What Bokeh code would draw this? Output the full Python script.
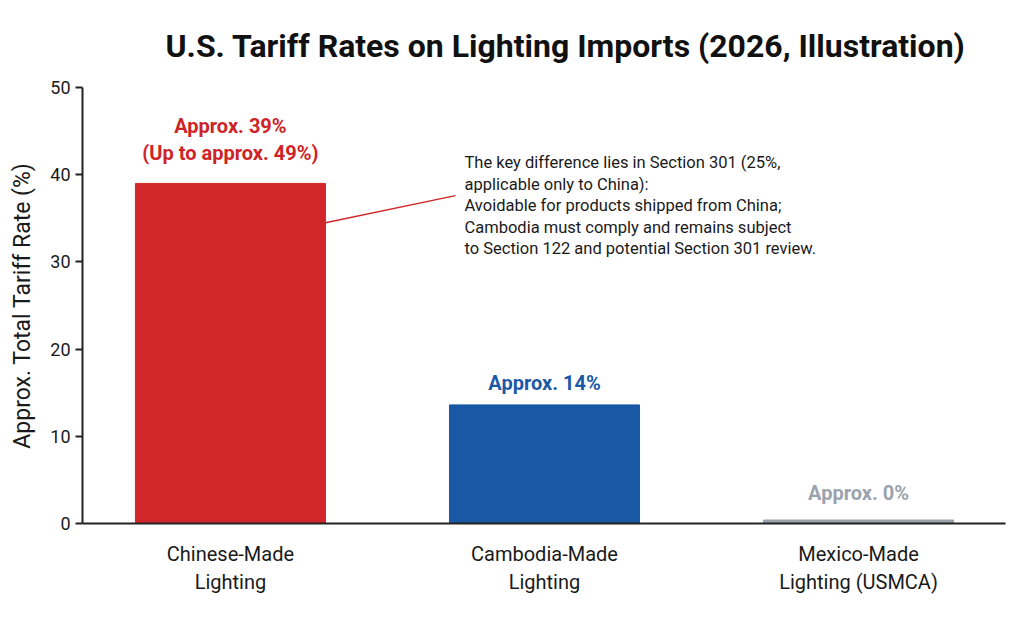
from bokeh.plotting import figure
from bokeh.models import FixedTicker, Range1d
from bokeh.core.properties import value
from bokeh.embed import file_html
from bokeh.resources import INLINE

categories = ["Chinese-Made\nLighting", "Cambodia-Made\nLighting", "Mexico-Made\nLighting (USMCA)"]
rates = [39, 13.6, 0.4]
bar_colors = ["#D1262A", "#1858A4", "#9BA4AE"]
label_colors = ["#CE2327", "#1C59A6", "#9AA3AD"]
bar_labels = [["Approx. 39%", "(Up to approx. 49%)"], ["Approx. 14%"], ["Approx. 0%"]]
note_lines = [
    "The key difference lies in Section 301 (25%,",
    "applicable only to China):",
    "Avoidable for products shipped from China;",
    "Cambodia must comply and remains subject",
    "to Section 122 and potential Section 301 review.",
]
y_ticks = [0, 10, 20, 30, 40, 50]

FONT = "Roboto"
W, H = 1024, 620
L, R, T, B = 82, 19, 87, 97
ymax = 50
px_per_unit = (H - T - B) / ymax
xs = [i + 0.5 for i in range(len(categories))]
x0, x1 = 0.029, 2.968
px_per_x = (W - L - R) / (x1 - x0)

p = figure(width=W, height=H, output_backend="svg", toolbar_location=None,
           x_range=Range1d(x0, x1), y_range=Range1d(0, ymax),
           min_border_left=L, min_border_right=R, min_border_top=T, min_border_bottom=B)
p.outline_line_color = None
p.grid.grid_line_color = None
p.background_fill_color = "white"

p.title.text = "U.S. Tariff Rates on Lighting Imports (2026, Illustration)"
p.title.text_font = FONT
p.title.text_font_size = "32px"
p.title.text_font_style = "bold"
p.title.text_color = "#111111"
p.title.align = "left"
p.title.offset = 83
p.title.standoff = 46

p.vbar(x=xs, top=rates, width=0.605, color=bar_colors)

# bar labels
for x, v, lines, c in zip(xs, rates, bar_labels, label_colors):
    n = len(lines)
    for k, t in enumerate(lines):
        if v > 1:
            off = 22 + (8 if n > 1 else 0) + 27 * (n - 1 - k)
        else:
            off = 27
        p.text(x=[x], y=[v + off / px_per_unit], text=[t], text_align="center",
               text_baseline="middle", text_font=value(FONT), text_font_style="bold",
               text_font_size="20px", text_color=c)

# annotation
note_x = x0 + (464 - L) / px_per_x
note_y0 = (H - B - 162) / px_per_unit
for k, t in enumerate(note_lines):
    p.text(x=[note_x], y=[note_y0 - k * 21.5 / px_per_unit], text=[t], text_align="left",
           text_baseline="middle", text_font=value(FONT), text_font_size="16.5px",
           text_color="#1a1a1a")
p.line(x=[xs[0] + 0.3025, x0 + (455 - L) / px_per_x], y=[rates[0] - 4.5, 37.6],
       line_color="#D1262A", line_width=1.5)

# axes
p.yaxis.ticker = FixedTicker(ticks=y_ticks)
p.yaxis.axis_label = "Approx. Total Tariff Rate (%)"
p.yaxis.axis_label_text_font = FONT
p.yaxis.axis_label_text_font_style = "normal"
p.yaxis.axis_label_text_font_size = "23px"
p.yaxis.axis_label_text_color = "#1a1a1a"
p.yaxis.axis_label_standoff = 11
p.yaxis.major_label_text_font = FONT
p.yaxis.major_label_text_font_size = "18px"
p.yaxis.major_label_text_color = "#1a1a1a"
p.yaxis.major_tick_out = 7
p.yaxis.major_tick_in = 0
p.yaxis.minor_tick_line_color = None
p.yaxis.axis_line_width = 2
p.yaxis.major_tick_line_width = 2
p.yaxis.axis_line_color = "#222222"
p.yaxis.major_tick_line_color = "#222222"

p.xaxis.ticker = FixedTicker(ticks=xs)
p.xaxis.major_label_overrides = {x: c for x, c in zip(xs, categories)}
p.xaxis.major_label_text_font = FONT
p.xaxis.major_label_text_font_size = "20px"
p.xaxis.major_label_text_color = "#1a1a1a"
p.xaxis.major_label_standoff = 12
p.xaxis.major_tick_line_color = None
p.xaxis.minor_tick_line_color = None
p.xaxis.axis_line_width = 2
p.xaxis.axis_line_color = "#222222"

open("out.html", "w").write(file_html(p, INLINE))
